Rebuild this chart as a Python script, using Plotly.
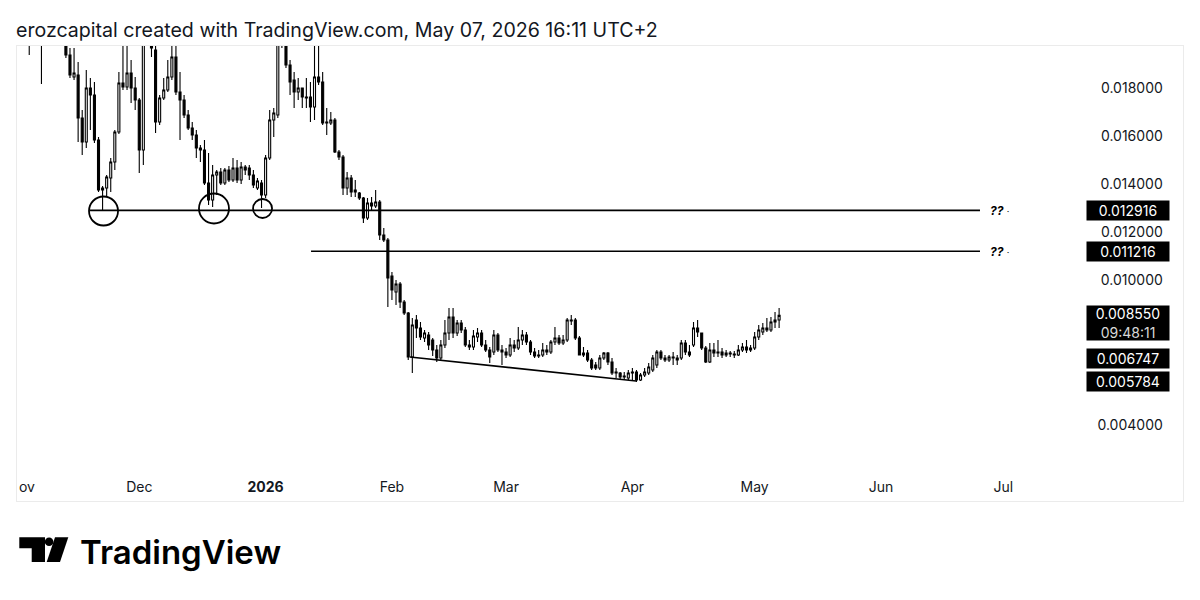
import plotly.graph_objects as go
import pandas as pd

# ---------------- data (daily candles) ----------------
start_date = "2025-11-01"

open_ = [
    0.020410, 0.020202, 0.020410, 0.020077, 0.020410, 0.020202, 0.020077, 0.019911, 0.020202, 0.020410,
    0.020617, 0.020202, 0.020077, 0.019371, 0.018457, 0.018540, 0.016753, 0.015755, 0.018000, 0.017709,
    0.015839, 0.013761, 0.013845, 0.014260, 0.014925, 0.016171, 0.018207, 0.018041, 0.018623, 0.018000,
    0.017501, 0.015424, 0.019994, 0.020077, 0.019579, 0.016587, 0.017584, 0.017917, 0.018457, 0.019288,
    0.017833, 0.017501, 0.016878, 0.016338, 0.016047, 0.015507, 0.015424, 0.014052, 0.013346, 0.014385,
    0.014510, 0.014052, 0.014593, 0.014177, 0.014676, 0.014177, 0.014717, 0.014676, 0.014385, 0.013845,
    0.014052, 0.013554, 0.015091, 0.016670, 0.016878, 0.019994, 0.019911, 0.018955, 0.018332, 0.017833,
    0.018000, 0.017626, 0.017626, 0.017210, 0.018457, 0.018249, 0.016545, 0.016545, 0.016670, 0.015340,
    0.015133, 0.013845, 0.014260, 0.013678, 0.013637, 0.013429, 0.012598, 0.013221, 0.013097, 0.013263,
    0.011891, 0.011684, 0.010188, 0.009523, 0.009856, 0.009108, 0.008651, 0.006823, 0.008360, 0.008028,
    0.007613, 0.007737, 0.007529, 0.007114, 0.006781, 0.007321, 0.007820, 0.008485, 0.007820, 0.008236,
    0.007945, 0.007321, 0.007238, 0.007654, 0.007820, 0.007321, 0.007114, 0.007031, 0.007737, 0.007114,
    0.007031, 0.006906, 0.007321, 0.007197, 0.007529, 0.007737, 0.007446, 0.007031, 0.006864, 0.006906,
    0.007114, 0.007031, 0.007446, 0.007613, 0.007405, 0.007529, 0.008319, 0.008360, 0.007613, 0.006906,
    0.006989, 0.006698, 0.006490, 0.006366, 0.006781, 0.006989, 0.006615, 0.006158, 0.006158, 0.005992,
    0.005950, 0.006158, 0.006200, 0.005867, 0.006075, 0.006158, 0.006283, 0.006490, 0.007031, 0.006781,
    0.006698, 0.006823, 0.006781, 0.006781, 0.007405, 0.007031, 0.007321, 0.008028, 0.007820, 0.007197,
    0.006615, 0.007114, 0.006989, 0.007031, 0.006906, 0.006989, 0.006947, 0.006906, 0.007114, 0.007238,
    0.007114, 0.007197, 0.007654, 0.007862, 0.008028, 0.007945, 0.008277, 0.008360,
]

high = [
    0.020825, 0.020617, 0.020825, 0.020617, 0.020825, 0.020617, 0.020410, 0.020410, 0.020825, 0.020825,
    0.020825, 0.020617, 0.020410, 0.019662, 0.019662, 0.019080, 0.017086, 0.018748, 0.018415, 0.018249,
    0.015964, 0.013928, 0.014385, 0.015091, 0.016255, 0.018664, 0.019828, 0.019869, 0.019163, 0.018457,
    0.017584, 0.020410, 0.020825, 0.020617, 0.019786, 0.017709, 0.018415, 0.019163, 0.019786, 0.019786,
    0.018664, 0.017709, 0.017086, 0.016587, 0.016255, 0.015631, 0.015839, 0.015299, 0.014800, 0.014593,
    0.014676, 0.014676, 0.014759, 0.015091, 0.015008, 0.014925, 0.014800, 0.014800, 0.014593, 0.014260,
    0.014177, 0.015216, 0.017086, 0.017169, 0.020410, 0.020617, 0.020202, 0.019163, 0.018664, 0.018415,
    0.018000, 0.018415, 0.018249, 0.019911, 0.019994, 0.018664, 0.017169, 0.017002, 0.016753, 0.015424,
    0.015216, 0.014510, 0.014385, 0.014177, 0.013678, 0.013470, 0.013429, 0.013470, 0.013761, 0.013346,
    0.012183, 0.011767, 0.010354, 0.010022, 0.009939, 0.009191, 0.008692, 0.008443, 0.008568, 0.008277,
    0.007945, 0.007862, 0.007613, 0.007321, 0.007529, 0.008360, 0.008859, 0.008859, 0.008360, 0.008360,
    0.008069, 0.007529, 0.007945, 0.008028, 0.007945, 0.007529, 0.007238, 0.007945, 0.007820, 0.007321,
    0.007197, 0.007613, 0.007529, 0.008069, 0.007945, 0.007862, 0.007529, 0.007197, 0.007114, 0.007405,
    0.007321, 0.007529, 0.008069, 0.007737, 0.007737, 0.008443, 0.008568, 0.008443, 0.007696, 0.007238,
    0.007114, 0.006781, 0.006615, 0.006906, 0.007031, 0.007031, 0.006781, 0.006366, 0.006200, 0.006200,
    0.006283, 0.006366, 0.006283, 0.006158, 0.006366, 0.006573, 0.006906, 0.007114, 0.007114, 0.006906,
    0.006906, 0.007031, 0.006906, 0.007529, 0.007529, 0.007321, 0.008277, 0.008360, 0.007820, 0.007280,
    0.007405, 0.007405, 0.007529, 0.007197, 0.007114, 0.007072, 0.007072, 0.007321, 0.007405, 0.007529,
    0.007321, 0.007862, 0.008153, 0.008236, 0.008443, 0.008485, 0.008692, 0.008859,
]

low = [
    0.019994, 0.019911, 0.019828, 0.019371, 0.019911, 0.019828, 0.018166, 0.019745, 0.019869, 0.019911,
    0.019994, 0.019786, 0.019246, 0.018415, 0.018332, 0.015755, 0.015216, 0.015507, 0.016255, 0.015714,
    0.013678, 0.012931, 0.013470, 0.013678, 0.014593, 0.016088, 0.017917, 0.017917, 0.017376, 0.017086,
    0.014468, 0.014800, 0.019745, 0.019288, 0.016130, 0.016462, 0.017501, 0.017833, 0.018332, 0.017709,
    0.015839, 0.016753, 0.016255, 0.015839, 0.015091, 0.014925, 0.013969, 0.013138, 0.013055, 0.013554,
    0.013969, 0.013969, 0.014094, 0.014094, 0.014052, 0.014011, 0.014385, 0.014177, 0.013845, 0.013761,
    0.013014, 0.013429, 0.015008, 0.015964, 0.016753, 0.019662, 0.018831, 0.017709, 0.017169, 0.017501,
    0.017169, 0.017169, 0.016587, 0.016670, 0.018124, 0.016462, 0.016047, 0.016462, 0.015299, 0.015008,
    0.013554, 0.013554, 0.013470, 0.013470, 0.013346, 0.012390, 0.012515, 0.012931, 0.013014, 0.011684,
    0.011601, 0.008900, 0.009191, 0.008983, 0.008859, 0.008568, 0.006698, 0.006158, 0.007613, 0.007529,
    0.007446, 0.007114, 0.006864, 0.006615, 0.006698, 0.007197, 0.007529, 0.007613, 0.007696, 0.007820,
    0.007238, 0.007114, 0.007114, 0.007446, 0.007238, 0.007031, 0.006573, 0.006906, 0.007031, 0.006490,
    0.006781, 0.006823, 0.007031, 0.007114, 0.007321, 0.007321, 0.006906, 0.006781, 0.006781, 0.006823,
    0.006906, 0.006947, 0.007321, 0.007321, 0.007321, 0.007446, 0.008153, 0.007529, 0.006906, 0.006823,
    0.006615, 0.006283, 0.006283, 0.006283, 0.006698, 0.006490, 0.006075, 0.005950, 0.005909, 0.005867,
    0.005867, 0.005867, 0.005784, 0.005825, 0.005992, 0.006075, 0.006200, 0.006366, 0.006698, 0.006615,
    0.006615, 0.006490, 0.006490, 0.006698, 0.006906, 0.006823, 0.007238, 0.007654, 0.007114, 0.006573,
    0.006573, 0.006823, 0.006823, 0.006781, 0.006823, 0.006823, 0.006781, 0.006864, 0.007031, 0.006989,
    0.007031, 0.007114, 0.007529, 0.007737, 0.007862, 0.007862, 0.008028, 0.008028,
]

close = [
    0.020202, 0.020410, 0.020077, 0.020410, 0.020202, 0.020077, 0.019911, 0.020202, 0.020410, 0.020617,
    0.020202, 0.020077, 0.019371, 0.018540, 0.018623, 0.016753, 0.015755, 0.018000, 0.017709, 0.015839,
    0.013761, 0.013845, 0.014302, 0.014925, 0.016171, 0.018207, 0.018041, 0.018623, 0.018000, 0.017501,
    0.015424, 0.019994, 0.020077, 0.019662, 0.016587, 0.017584, 0.017917, 0.018457, 0.019288, 0.017833,
    0.017501, 0.016878, 0.016338, 0.016047, 0.015507, 0.015424, 0.014052, 0.013346, 0.014385, 0.014510,
    0.014052, 0.014593, 0.014177, 0.014676, 0.014177, 0.014717, 0.014593, 0.014385, 0.013969, 0.014135,
    0.013554, 0.015091, 0.016670, 0.016961, 0.019994, 0.019911, 0.018955, 0.018249, 0.017833, 0.018000,
    0.017626, 0.017584, 0.017210, 0.018457, 0.018249, 0.016545, 0.016587, 0.016670, 0.015340, 0.015133,
    0.013845, 0.014260, 0.013678, 0.013761, 0.013429, 0.012598, 0.013221, 0.013097, 0.013263, 0.011891,
    0.011684, 0.010105, 0.009606, 0.009856, 0.009108, 0.008651, 0.006823, 0.008153, 0.008028, 0.007654,
    0.007820, 0.007321, 0.007114, 0.006781, 0.007321, 0.007820, 0.008485, 0.007820, 0.008236, 0.007945,
    0.007321, 0.007238, 0.007696, 0.007820, 0.007321, 0.007114, 0.006823, 0.007737, 0.007114, 0.007031,
    0.006906, 0.007321, 0.007197, 0.007529, 0.007737, 0.007446, 0.007031, 0.006864, 0.006906, 0.007114,
    0.007031, 0.007446, 0.007613, 0.007405, 0.007529, 0.008360, 0.008360, 0.007613, 0.006906, 0.006989,
    0.006698, 0.006366, 0.006366, 0.006781, 0.006989, 0.006615, 0.006158, 0.006200, 0.005992, 0.006033,
    0.006158, 0.006200, 0.005867, 0.006075, 0.006200, 0.006407, 0.006781, 0.007031, 0.006781, 0.006698,
    0.006823, 0.006781, 0.006698, 0.007405, 0.007031, 0.006906, 0.008028, 0.007862, 0.007197, 0.006615,
    0.007114, 0.006989, 0.007031, 0.006906, 0.006989, 0.006947, 0.006906, 0.007114, 0.007238, 0.007114,
    0.007197, 0.007654, 0.007945, 0.008028, 0.007945, 0.008277, 0.008360, 0.008550,
]

# drawings on the chart
support_level = 0.012916
resist_level = 0.011216
support_start = "2025-11-18 22:00"
resist_start = "2026-01-12 03:30"
levels_end = "2026-06-25 07:00"
trend_dates = ["2026-02-05 10:00", "2026-04-01 22:00"]
trend_prices = [0.006823, 0.005825]
circle_dates = ["2025-11-22 05:30", "2025-12-19 08:00", "2025-12-31 06:00"]
circle_prices = [0.012889, 0.012993, 0.012993]
circle_radius_px = [14.5, 15, 9.5]

# price scale tags
tag_values = [0.012916, 0.011216, 0.006747, 0.005784]
last_price = 0.008550
countdown = "09:48:11"

# axes
x_range = ["2025-11-01 00:00", "2026-08-14 02:30"]
y_range = [0.000839, 0.019745]
x_tickvals = ["2025-12-01", "2026-01-01", "2026-02-01", "2026-03-01",
              "2026-04-01", "2026-05-01", "2026-06-01", "2026-07-01"]
x_ticktext = ["Dec", "<b>2026</b>", "Feb", "Mar", "Apr", "May", "Jun", "Jul"]
y_tickvals = [0.004, 0.010, 0.012, 0.014, 0.016, 0.018]
y_ticktext = ["%.6f" % v for v in y_tickvals]

title_text = "erozcapital created with TradingView.com, May 07, 2026 16:11 UTC+2"

# ---------------- figure ----------------
W, H = 1200, 600
ML, MR, MT, MB = 17, 17, 46, 99
PW, PH = W - ML - MR, H - MT - MB
FONT = "Inter, Roboto, 'Noto Sans', sans-serif"
INK = "#131722"


def px2x(p):
    return (p - ML) / PW


def py2y(p):
    return (H - MB - p) / PH


dates = pd.date_range(start_date, periods=len(close), freq="D")

fig = go.Figure()
fig.add_trace(go.Candlestick(
    x=dates, open=open_, high=high, low=low, close=close,
    increasing=dict(line=dict(color="#000000", width=1.1), fillcolor="#ffffff"),
    decreasing=dict(line=dict(color="#000000", width=1.1), fillcolor="#000000"),
    whiskerwidth=0, hoverinfo="skip", showlegend=False,
))

shapes = []
line_style = dict(color="#000000", width=1.6)
shapes.append(dict(type="line", xref="x", yref="y", x0=support_start, x1=levels_end,
                   y0=support_level, y1=support_level, line=line_style))
shapes.append(dict(type="line", xref="x", yref="y", x0=resist_start, x1=levels_end,
                   y0=resist_level, y1=resist_level, line=line_style))
shapes.append(dict(type="line", xref="x", yref="y", x0=trend_dates[0], x1=trend_dates[1],
                   y0=trend_prices[0], y1=trend_prices[1], line=dict(color="#000000", width=1.6)))
for d, p, r in zip(circle_dates, circle_prices, circle_radius_px):
    shapes.append(dict(type="circle", xref="x", yref="y", xsizemode="pixel", ysizemode="pixel",
                       xanchor=d, yanchor=p, x0=-r, x1=r, y0=-r, y1=r,
                       line=dict(color="#000000", width=1.8)))

# TradingView logo (bottom-left)
logo_T = [(19.3, 537.3), (45, 537.3), (45, 562), (31.7, 562), (31.7, 548.3), (19.3, 548.3)]
logo_slash = [(55, 537.3), (68.3, 537.3), (60, 562), (46.7, 562)]


def poly(pts):
    s = "M" + " L".join("%.5f,%.5f" % (px2x(a), py2y(b)) for a, b in pts) + " Z"
    return s


shapes.append(dict(type="path", xref="paper", yref="paper", path=poly(logo_T),
                   fillcolor="#000000", line=dict(width=0)))
shapes.append(dict(type="path", xref="paper", yref="paper", path=poly(logo_slash),
                   fillcolor="#000000", line=dict(width=0)))
shapes.append(dict(type="circle", xref="paper", yref="paper",
                   x0=px2x(44.8), x1=px2x(53.4), y0=py2y(546.1), y1=py2y(537.5),
                   fillcolor="#000000", line=dict(width=0)))

annotations = []
for lvl in [support_level, resist_level]:
    annotations.append(dict(x=levels_end, y=lvl, xref="x", yref="y", xanchor="left",
                            yanchor="middle", xshift=8, showarrow=False,
                            text="<b><i>??</i></b> <span style='font-size:9px'>·</span>",
                            font=dict(family=FONT, size=12, color="#000000")))

tag_x = px2x(1128)
for v in tag_values:
    annotations.append(dict(x=tag_x, y=v, xref="paper", yref="y", xanchor="center",
                            yanchor="middle", showarrow=False, text="%.6f" % v,
                            bgcolor="#000000", borderpad=2, width=78, height=15,
                            font=dict(family=FONT, size=14, color="#ffffff")))
annotations.append(dict(x=tag_x, y=last_price, xref="paper", yref="y", xanchor="center",
                        yanchor="top", yshift=10, showarrow=False,
                        text="%.6f<br><span style='color:#d8d8d8'>%s</span>" % (last_price, countdown),
                        bgcolor="#000000", borderpad=2, width=78, height=30,
                        font=dict(family=FONT, size=14, color="#ffffff")))

# clipped "Nov" label at the left edge of the time scale
annotations.append(dict(x=0, y=py2y(486), xref="paper", yref="paper", xanchor="left",
                        yanchor="middle", showarrow=False, text="ov",
                        font=dict(family=FONT, size=14, color=INK)))

# TradingView wordmark
annotations.append(dict(x=px2x(78), y=py2y(552), xref="paper", yref="paper", xanchor="left",
                        yanchor="middle", showarrow=False, text="TradingView",
                        font=dict(family=FONT, size=33, color="#000000", weight=600)))

fig.update_layout(
    width=W, height=H,
    margin=dict(l=ML, r=MR, t=MT, b=MB),
    paper_bgcolor="#ffffff", plot_bgcolor="#ffffff",
    showlegend=False,
    font=dict(family=FONT, size=14, color=INK),
    title=dict(text=title_text, x=16 / W, xanchor="left", y=1 - 30 / H, yanchor="middle",
               xref="container", yref="container",
               font=dict(family=FONT, size=19.6, color=INK)),
    shapes=shapes,
    annotations=annotations,
    xaxis=dict(type="date", range=x_range, tickvals=x_tickvals, ticktext=x_ticktext,
               ticklabelposition="inside", ticks="", ticklabelstandoff=6,
               showgrid=False, zeroline=False, showline=True, linecolor="#ebebeb",
               linewidth=1, mirror=True, rangeslider=dict(visible=False),
               tickfont=dict(family=FONT, size=14, color=INK), fixedrange=True),
    yaxis=dict(side="right", range=y_range, tickvals=y_tickvals, ticktext=y_ticktext,
               ticklabelposition="inside", ticks="", ticklabelstandoff=20,
               showgrid=False, zeroline=False, showline=True, linecolor="#ebebeb",
               linewidth=1, mirror=True,
               tickfont=dict(family=FONT, size=14, color=INK), fixedrange=True),
)

fig.write_html("out.html", config={"displayModeBar": False},
               post_script="document.body.style.margin='0px';document.body.style.overflow='hidden';")
